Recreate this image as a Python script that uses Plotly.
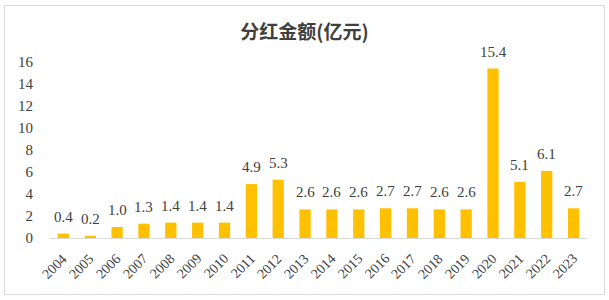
import plotly.graph_objects as go

years = [str(y) for y in range(2004, 2024)]
values = [0.4, 0.2, 1.0, 1.3, 1.4, 1.4, 1.4, 4.9, 5.3, 2.6, 2.6, 2.6, 2.7, 2.7, 2.6, 2.6, 15.4, 5.1, 6.1, 2.7]
labels = [f"{v:.1f}" for v in values]
yticks = [0, 2, 4, 6, 8, 10, 12, 14, 16]

W, H = 609, 300
L, R, T, B = 50, 22, 62, 62
pw, ph = W - L - R, H - T - B

fig = go.Figure(go.Bar(
    x=years, y=values,
    marker=dict(color="#FFC000", line=dict(width=0)),
    width=0.42, cliponaxis=False,
))

def px(x):
    return (x - L) / pw

def py(y):
    return (H - B - y) / ph

annotations = []
for i, (yr, v, lab) in enumerate(zip(years, values, labels)):
    annotations.append(dict(x=i, y=v, xref="x", yref="y", text=lab, showarrow=False,
                            xanchor="center", yanchor="bottom", yshift=7,
                            font=dict(family="Liberation Serif", size=15, color="#404040")))
    annotations.append(dict(x=i, y=py(266), xref="x", yref="paper", text=yr, showarrow=False,
                            xanchor="center", yanchor="middle", xshift=-9, textangle=-45,
                            font=dict(family="Liberation Serif", size=14, color="#404040")))

fig.update_layout(
    width=W, height=H,
    margin=dict(l=L, r=R, t=T, b=B),
    paper_bgcolor="white", plot_bgcolor="white",
    showlegend=False,
    title=dict(text="<b>分红金额(亿元)</b>", x=0.5, xanchor="center", y=1 - 32 / H, yanchor="middle",
               font=dict(family="Noto Sans CJK SC", size=19, color="#404040")),
    xaxis=dict(type="category", range=[-0.5, len(years) - 0.5], showticklabels=False,
               showline=True, linecolor="#d9d9d9", linewidth=1, ticks=""),
    yaxis=dict(range=[0, 16], tickvals=yticks, showgrid=False, zeroline=False, showline=False,
               ticks="", ticklabelstandoff=16,
               tickfont=dict(family="Liberation Serif", size=15, color="#404040")),
    annotations=annotations,
    shapes=[dict(type="rect", xref="paper", yref="paper",
                 x0=px(4.5), x1=px(604.5), y0=py(294.5), y1=py(5.5),
                 line=dict(color="#d9d9d9", width=1), fillcolor="rgba(0,0,0,0)", layer="below")],
)

fig.write_html("out.html")
